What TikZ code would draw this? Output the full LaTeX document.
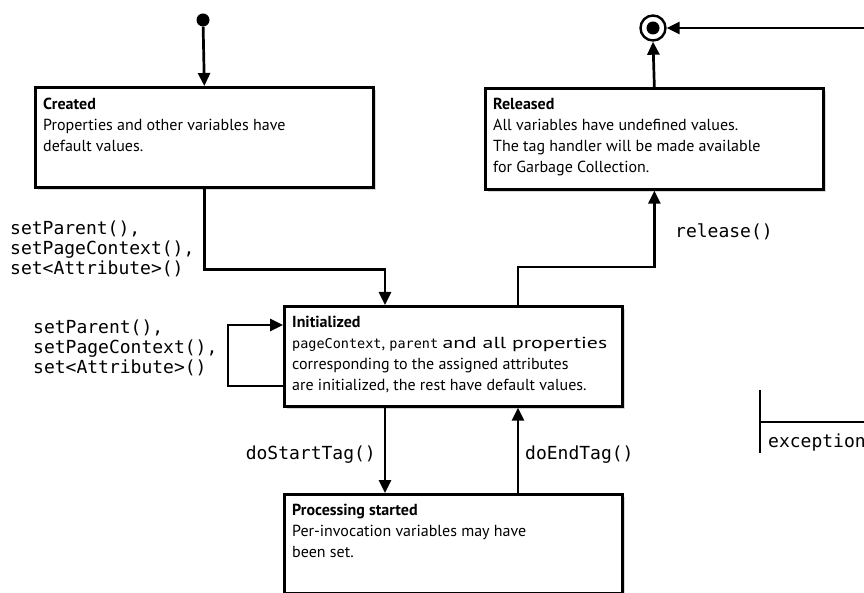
\documentclass[tikz,border=0pt]{standalone}
\usepackage{fontspec}
\setmainfont{PT Sans}
\newfontfamily\codefont{DejaVu Sans Mono}
\usetikzlibrary{arrows.meta,shadows}
\begin{document}
\begin{tikzpicture}[x=1pt,y=-1pt,
  statebox/.style={draw=black, line width=2.7pt, fill=white, rectangle, inner sep=0pt, anchor=north west,
     minimum width=338pt,
     drop shadow={shadow xshift=3pt, shadow yshift=-3pt, fill=black!30}},
  boxtext/.style={anchor=north west, align=left, inner sep=0pt, font=\fontsize{16}{21}\selectfont},
  code/.style={align=left, inner sep=0pt, font=\codefont\fontsize{18}{20}\selectfont},
  conn/.style={line width=2.7pt},
  arr/.style={conn, -{Triangle[length=13pt,width=12pt]}},
]
\useasboundingbox (0,0) rectangle (864,593);
\clip (0,0) rectangle (864,593);

% states
\node[statebox, minimum height=100pt] (created) at (34,86) {};
\node[boxtext] (createdtext) at ([xshift=9pt,yshift=-12pt]created.north west)
  {\textbf{Created}\\Properties and other variables have\\default values.};

\node[statebox, minimum height=101pt] (released) at (484,87) {};
\node[boxtext] (releasedtext) at ([xshift=9pt,yshift=-11pt]released.north west)
  {\textbf{Released}\\All variables have undefined values.\\The tag handler will be made available\\for Garbage Collection.};

\node[statebox, minimum height=100pt] (initialized) at (283,305) {};
\node[boxtext] (initializedtext) at ([xshift=9pt,yshift=-11pt]initialized.north west)
  {\textbf{Initialized}\\{\codefont\fontsize{13.5}{21}\selectfont pageContext}, {\codefont\fontsize{13.5}{21}\selectfont parent} \scalebox{1.36}[1]{and all properties}\\corresponding to the assigned attributes\\are initialized, the rest have default values.};

\node[statebox, minimum height=99pt] (processing) at (283,493) {};
\node[boxtext] (processingtext) at ([xshift=9pt,yshift=-11pt]processing.north west)
  {\textbf{Processing started}\\Per-invocation variables may have\\been set.};

% pseudo states
\node[circle, fill=black, minimum size=13pt, inner sep=0pt] (start) at (203,20) {};
\node[circle, draw=black, line width=2.4pt, fill=white, minimum size=25pt, inner sep=0pt] (final) at (653,28) {};
\node[circle, fill=black, minimum size=13pt, inner sep=0pt] (finalcore) at (final.center) {};

% connectors
\draw[arr] (start) -- (created.north);
\draw[arr] (created.south) -- ++(0,81) -| ([xshift=102pt]initialized.north west);
\draw[arr] ([xshift=235pt]initialized.north west) -- ++(0,-38) -| (released.south);
\draw[arr] (released.north) -- (final.south);
\coordinate (rightin) at (866,28);
\draw[arr] (rightin) -- (final.east);
\draw[arr] ([xshift=102pt]initialized.south west) -- ([xshift=102pt]processing.north west);
\draw[arr] ([xshift=235pt]processing.north west) -- ([xshift=235pt]initialized.south west);
\draw[arr] ([yshift=-81pt]initialized.north west) -- ++(-55,0) |- ([yshift=-20pt]initialized.north west);

% exception
\coordinate (extop) at (760,390);
\coordinate (exbot) at (760,453);
\coordinate (exmid) at (760,422);
\coordinate (exright) at (866,422);
\draw[conn] (extop) -- (exbot);
\draw[conn] (exmid) -- (exright);

% labels
\node[code, anchor=north west] (setters1) at (10,221) {setParent(),\\setPageContext(),\\set<Attribute>()};
\node[code, anchor=north west] (setters2) at (33,320) {setParent(),\\setPageContext(),\\set<Attribute>()};
\node[code, anchor=west] (releaselbl) at (675,232) {release()};
\node[code, anchor=east] (startlbl) at (376,455) {doStartTag()};
\node[code, anchor=west] (endlbl) at (525,455) {doEndTag()};
\node[code, anchor=west] (exlbl) at (768,443) {exception};
\end{tikzpicture}
\end{document}
